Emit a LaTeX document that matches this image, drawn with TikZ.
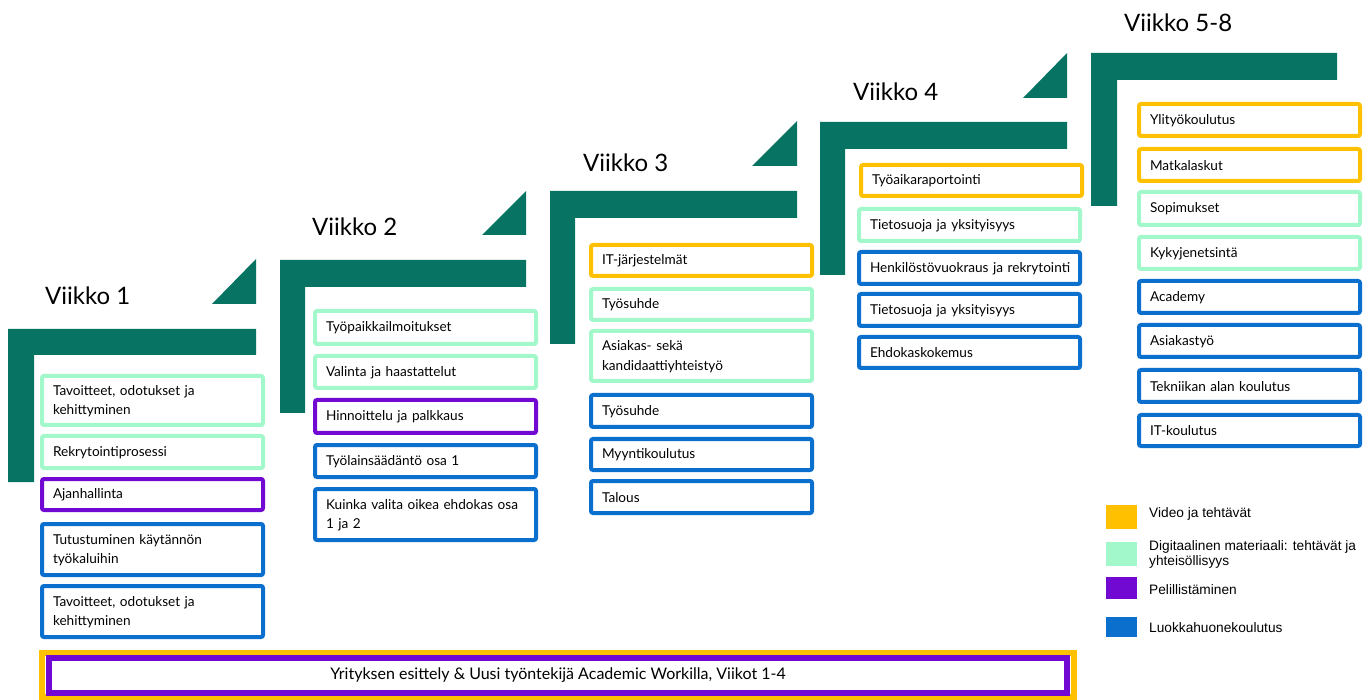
\documentclass[tikz,border=0pt]{standalone}
\usepackage{fontspec}
\setmainfont{Lato}
\newfontfamily\legfont{Liberation Sans}
\definecolor{teal}{HTML}{077463}
\definecolor{yel}{HTML}{FFC000}
\definecolor{mint}{HTML}{A3F8CB}
\definecolor{purp}{HTML}{7109D2}
\definecolor{blu}{HTML}{0B6FCE}
\tikzset{
  x=1pt, y=-1pt,
  bx/.style={draw=#1, line width=4pt, rounded corners=2pt, fill=white,
    minimum width=221pt, text width=199pt, inner xsep=11pt, inner ysep=0pt,
    align=left, font=\fontsize{13.6}{19.5}\selectfont},
  ttl/.style={anchor=west, inner sep=0pt, font=\fontsize{24}{28}\selectfont},
  lsq/.style={fill=#1, draw=none, minimum width=31pt, minimum height=24pt, inner sep=0pt, anchor=north west},
  ltx/.style={anchor=west, inner sep=0pt, align=left, font=\legfont\fontsize{13.7}{15.5}\selectfont},
  stair/.style={fill=teal, draw=none}
}
\newcommand{\bxx}[6]{\node[bx=#2, minimum height={#5-#4-4}] (#1) at ({#3+112.5},{(#4+#5)/2}) {\vphantom{Ty}\raisebox{-1.5pt}{\parbox[t]{199pt}{\raggedright #6}}};}
\begin{document}
\begin{tikzpicture}
\useasboundingbox (0,0) rectangle (1371,700);
% stairs
\fill[stair] (8,329) -- (256,329) -- (256,355) -- (34,355) -- (34,482) -- (8,482) -- cycle;
\fill[stair] (212,304) -- (256,304) -- (256,259) -- cycle;
\fill[stair] (280,260) -- (526,260) -- (526,287) -- (305,287) -- (305,413) -- (280,413) -- cycle;
\fill[stair] (482,235) -- (526,235) -- (526,191) -- cycle;
\fill[stair] (550,191) -- (797,191) -- (797,218) -- (575,218) -- (575,344) -- (550,344) -- cycle;
\fill[stair] (752,166) -- (797,166) -- (797,121) -- cycle;
\fill[stair] (820,122) -- (1067,122) -- (1067,149) -- (845,149) -- (845,275) -- (820,275) -- cycle;
\fill[stair] (1023,98) -- (1067,98) -- (1067,53) -- cycle;
\fill[stair] (1091,53) -- (1337,53) -- (1337,80) -- (1117,80) -- (1117,206) -- (1091,206) -- cycle;
% titles
\node[ttl] (t1) at (45,296) {Viikko 1};
\node[ttl] (t2) at (312,227) {Viikko 2};
\node[ttl] (t3) at (583,163) {Viikko 3};
\node[ttl] (t4) at (853,92) {Viikko 4};
\node[ttl] (t5) at (1124,23) {Viikko 5-8};
% week 1
\bxx{a1}{mint}{40}{374}{427}{Tavoitteet, odotukset ja\\kehittyminen}
\bxx{a2}{mint}{40}{434}{470}{Rekrytointiprosessi}
\bxx{a3}{purp}{40}{477}{512}{Ajanhallinta}
\bxx{a4}{blu}{40}{522}{577}{Tutustuminen käytännön\\työkaluihin}
\bxx{a5}{blu}{40}{584}{639}{Tavoitteet, odotukset ja\\kehittyminen}
% week 2
\bxx{b1}{mint}{313}{309}{346}{Työpaikkailmoitukset}
\bxx{b2}{mint}{313}{354}{390}{Valinta ja haastattelut}
\bxx{b3}{purp}{313}{398}{435}{Hinnoittelu ja palkkaus}
\bxx{b4}{blu}{313}{443}{479}{Työlainsäädäntö osa 1}
\bxx{b5}{blu}{313}{487}{542}{Kuinka valita oikea ehdokas osa\\1 ja 2}
% week 3
\bxx{c1}{yel}{589}{243}{278}{IT-järjestelmät}
\bxx{c2}{mint}{589}{287}{322}{Työsuhde}
\bxx{c3}{mint}{589}{329}{383}{Asiakas- sekä\\kandidaattiyhteistyö}
\bxx{c4}{blu}{589}{393}{429}{Työsuhde}
\bxx{c5}{blu}{589}{437}{472}{Myyntikoulutus}
\bxx{c6}{blu}{589}{479}{515}{Talous}
% week 4
\bxx{d1}{yel}{859}{163}{198}{Työaikaraportointi}
\bxx{d2}{mint}{857}{207}{243}{Tietosuoja ja yksityisyys}
\bxx{d3}{blu}{857}{250}{286}{\mbox{Henkilöstövuokraus ja rekrytointi}}
\bxx{d4}{blu}{857}{292}{328}{Tietosuoja ja yksityisyys}
\bxx{d5}{blu}{857}{335}{370}{Ehdokaskokemus}
% week 5-8
\bxx{e1}{yel}{1137}{102}{138}{Ylityökoulutus}
\bxx{e2}{yel}{1137}{147}{183}{Matkalaskut}
\bxx{e3}{mint}{1137}{190}{227}{Sopimukset}
\bxx{e4}{mint}{1137}{235}{271}{Kykyjenetsintä}
\bxx{e5}{blu}{1137}{279}{315}{Academy}
\bxx{e6}{blu}{1137}{323}{359}{Asiakastyö}
\bxx{e7}{blu}{1137}{368}{404}{Tekniikan alan koulutus}
\bxx{e8}{blu}{1137}{413}{448}{IT-koulutus}
% legend
\node[lsq=yel] (l1) at (1106,505) {};
\node[lsq=mint] (l2) at (1106,542) {};
\node[lsq=purp, minimum height=22pt] (l3) at (1106,577) {};
\node[lsq=blu, minimum height=20pt] (l4) at (1106,617) {};
\node[ltx] (lt1) at (1149,514) {Video ja tehtävät};
\node[ltx] (lt2) at (1149,554.5) {Digitaalinen materiaali: tehtävät ja\\yhteisöllisyys};
\node[ltx] (lt3) at (1149,590) {Pelillistäminen};
\node[ltx] (lt4) at (1149,628) {Luokkahuonekoulutus};
% bottom bar
\node[draw=yel, line width=6pt, minimum width=1032pt, minimum height=44pt, inner sep=0pt] (bar) at (558,675) {};
\node[draw=purp, line width=6pt, minimum width=1018pt, minimum height=35pt, inner sep=0pt,
  font=\fontsize{16}{18}\selectfont] (bart) at (558,675.5) {Yrityksen esittely \& Uusi työntekijä Academic Workilla, Viikot 1-4};
\end{tikzpicture}
\end{document}
